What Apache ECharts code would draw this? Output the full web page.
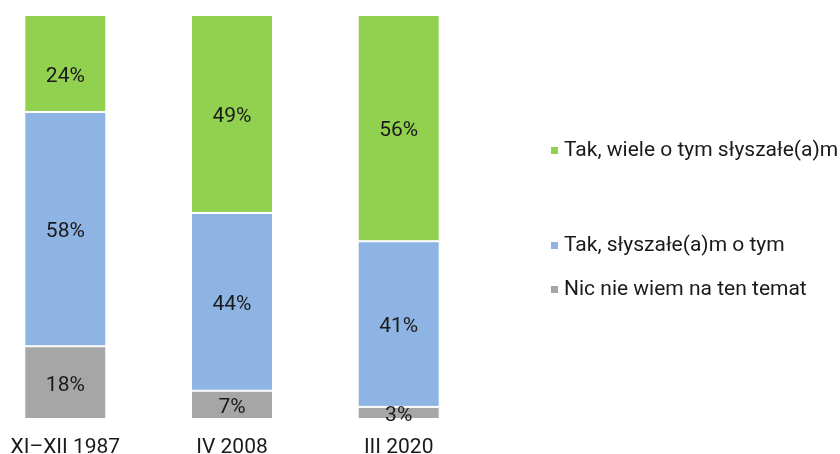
<!DOCTYPE html>
<html>
<head>
<meta charset="utf-8">
<script src="https://cdn.jsdelivr.net/npm/echarts@6/dist/echarts.min.js"></script>
<style>
html, body { margin: 0; padding: 0; background: #fff; }
#chart { width: 840px; height: 454px; }
</style>
</head>
<body>
<div id="chart"></div>
<script>
var categories = ['XI\u2013XII 1987', 'IV 2008', 'III 2020'];
var seriesNames = ['Tak, wiele o tym słyszałe(a)m', 'Tak, słyszałe(a)m o tym', 'Nic nie wiem na ten temat'];
var wieleValues = [24, 49, 56];
var slyszalValues = [58, 44, 41];
var nicValues = [18, 7, 3];

var colors = ['#92d050', '#8eb4e3', '#a6a6a6'];

var dom = document.getElementById('chart');
var myChart = echarts.init(dom);

function makeSeries(name, values, color) {
	var data = values.map(function (v, i) {
		// first bar's top label sits lower in the original
		var dy = (name === seriesNames[0] && i === 0) ? 13 : 3;
		return { value: v, label: { offset: [0, dy] } };
	});
	return {
		name: name,
		type: 'bar',
		stack: 'total',
		barWidth: 82,
		data: data,
		itemStyle: {
			color: color,
			borderColor: '#fff',
			borderWidth: 1
		},
		label: {
			show: true,
			position: 'inside',
			formatter: '{c}%',
			fontFamily: 'Roboto',
			fontSize: 21,
			color: '#1a1a1a'
		}
	};
}

function legendAt(name, top) {
	return {
		data: [name],
		left: 544,
		top: top,
		icon: 'rect',
		itemWidth: 9,
		itemHeight: 9,
		itemGap: 4,
		textStyle: { fontFamily: 'Roboto', fontSize: 21, color: '#1a1a1a' }
	};
}

var option = {
	backgroundColor: '#fff',
	animation: false,
	color: colors,
	legend: [
		legendAt(seriesNames[0], 135),
		legendAt(seriesNames[1], 230),
		legendAt(seriesNames[2], 274)
	],
	grid: { left: -18, top: 15, width: 500, bottom: 35, outerBoundsMode: 'none', containLabel: false },
	xAxis: {
		type: 'category',
		data: categories,
		axisLine: { show: false },
		axisTick: { show: false },
		axisLabel: {
			margin: 18,
			fontFamily: 'Roboto',
			fontSize: 21,
			color: '#1a1a1a'
		}
	},
	yAxis: {
		type: 'value',
		min: 0,
		max: 100,
		show: false
	},
	series: [
		makeSeries(seriesNames[2], nicValues, colors[2]),
		makeSeries(seriesNames[1], slyszalValues, colors[1]),
		makeSeries(seriesNames[0], wieleValues, colors[0])
	]
};

if (option && typeof option === 'object') {
	myChart.setOption(option, true);
}
</script>
</body>
</html>
